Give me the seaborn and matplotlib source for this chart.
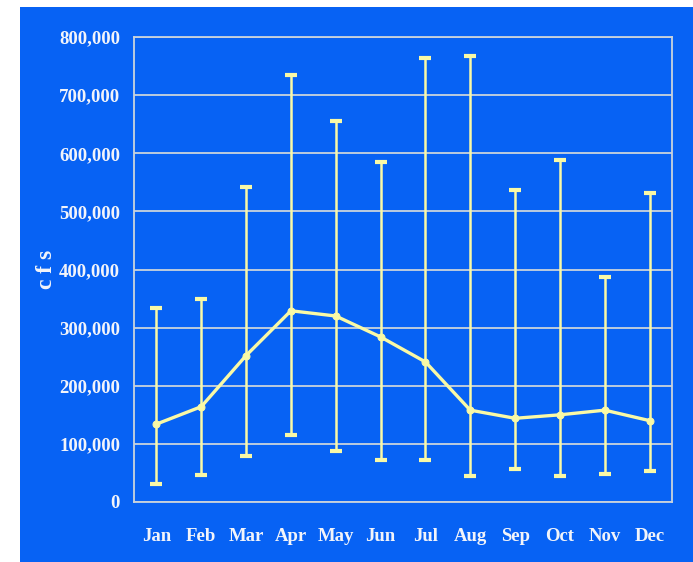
# Monthly flow chart: mean with min/max range
import numpy as np
import pandas as pd
import matplotlib
matplotlib.use("Agg")
import matplotlib.pyplot as plt
from matplotlib.patches import Rectangle
from matplotlib.ticker import FuncFormatter, FixedLocator
import seaborn as sns

# Data
months = ['Jan', 'Feb', 'Mar', 'Apr', 'May', 'Jun', 'Jul', 'Aug', 'Sep', 'Oct', 'Nov', 'Dec']
mean_cfs = [134000, 164000, 252000, 329000, 320000, 284000, 241000, 158000, 144000, 150000, 158000, 140000]
max_cfs = [333000, 350000, 542000, 734000, 656000, 585000, 764000, 768000, 537000, 588000, 387000, 532000]
min_cfs = [31000, 46000, 80000, 115000, 88000, 72000, 72000, 44000, 57000, 44000, 49000, 53000]

df = pd.DataFrame({'month': months, 'mean': mean_cfs, 'max': max_cfs, 'min': min_cfs})
df['pos'] = np.arange(len(months))

blue = '#0762f4'
yellow = '#f9f9a6'
grid_col = '#c9d3dc'
text_col = '#f2f4fa'

sns.set_style('white')
plt.rcParams['font.family'] = ['Liberation Serif', 'DejaVu Serif']
plt.rcParams['font.weight'] = 'bold'

fig = plt.figure(figsize=(6.93, 5.62), dpi=100)
fig.patch.set_facecolor('white')
fig.patches.append(Rectangle((20 / 693, 0), 673 / 693, 555 / 562, transform=fig.transFigure,
                             facecolor=blue, edgecolor='none', zorder=-1))

ax = fig.add_axes([134 / 693, 60 / 562, 538 / 693, 465 / 562])
ax.set_facecolor(blue)

# min / max whiskers
ax.errorbar(df['pos'], df['mean'],
            yerr=[df['mean'] - df['min'], df['max'] - df['mean']],
            fmt='none', ecolor=yellow, elinewidth=1.8, capsize=4.5, capthick=3, zorder=3)

# mean line
sns.lineplot(data=df, x='pos', y='mean', ax=ax, color=yellow, linewidth=2.4,
             marker='o', markersize=5, markeredgecolor=yellow, zorder=4)

ax.set_xlim(-0.5, 11.5)
ax.set_ylim(0, 800000)
ax.set_yticks(np.arange(0, 800001, 100000))
ax.yaxis.set_major_formatter(FuncFormatter(lambda v, p: f'{int(v):,}'))
ax.set_xticks(df['pos'])
ax.set_xticklabels(months)
ax.xaxis.set_minor_locator(FixedLocator(np.arange(-0.5, 12, 1)))

ax.grid(axis='y', color=grid_col, linewidth=1.3, zorder=1)
ax.set_axisbelow(True)
for side in ['left', 'bottom', 'right', 'top']:
    ax.spines[side].set_color(grid_col)
    ax.spines[side].set_linewidth(1.3)

ax.tick_params(axis='x', which='major', length=0, pad=19, labelsize=13.5, labelcolor=text_col)
ax.tick_params(axis='x', which='minor', length=7, width=1.3, color=grid_col, direction='out')
ax.tick_params(axis='y', length=4, width=1.3, color=grid_col, pad=6, labelsize=13.5, labelcolor=text_col)

ax.set_xlabel('')
ax.set_ylabel('c f s', fontsize=17, color=text_col, fontweight='bold')
ax.yaxis.set_label_coords(-0.143, 0.5)

fig.savefig('out.png', dpi=100, facecolor=fig.get_facecolor())
